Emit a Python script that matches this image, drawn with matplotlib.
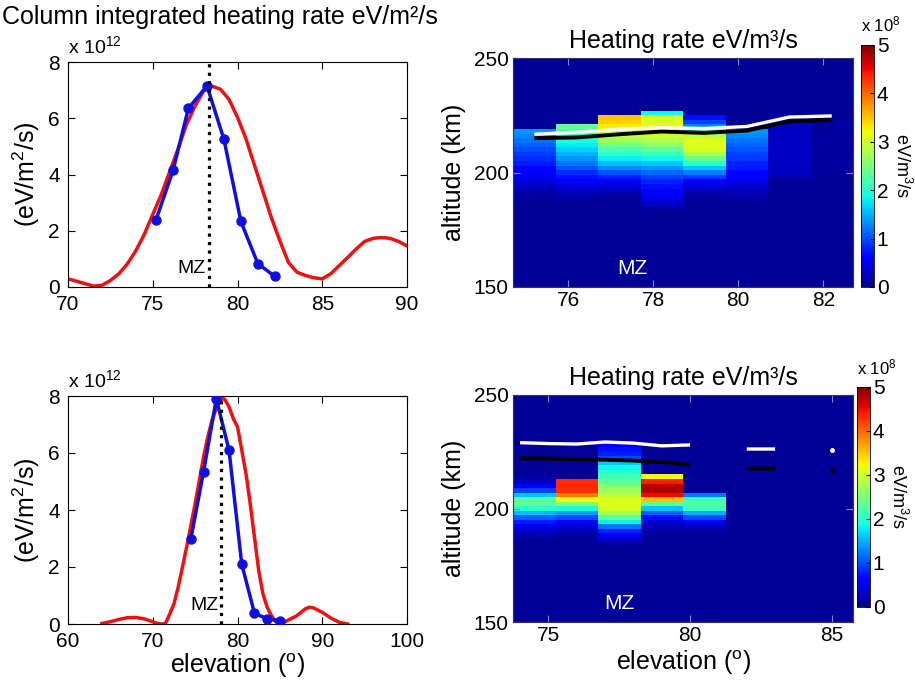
import numpy as np
import matplotlib
matplotlib.use("Agg")
import matplotlib.pyplot as plt

plt.rcParams['font.family'] = ['Liberation Sans', 'DejaVu Sans']
plt.rcParams['mathtext.fontset'] = 'custom'
plt.rcParams['mathtext.rm'] = 'Liberation Sans'
plt.rcParams['mathtext.it'] = 'Liberation Sans:italic'

# ---------------- column integrated heating rate (x 1e12 eV/m^2/s) ----------------
top_obs_elev = [75.2, 76.2, 77.1, 78.2, 79.2, 80.2, 81.2, 82.2]
top_obs_rate = [2.4, 4.15, 6.35, 7.15, 5.25, 2.33, 0.83, 0.38]
top_mod_elev = [70, 71, 71.5, 72, 72.5, 73, 73.5, 74, 74.5, 75, 75.5, 76, 76.5, 77, 77.5,
                78, 78.5, 79, 79.5, 80, 80.5, 81, 81.5, 82, 82.5, 83, 83.5, 84, 84.5, 85,
                85.5, 86, 86.5, 87, 87.5, 88, 88.5, 89, 89.5, 90]
top_mod_rate = [0.29, 0.12, 0.03, 0.06, 0.23, 0.47, 0.82, 1.29, 1.87, 2.58, 3.28, 4.1, 4.92,
                5.8, 6.44, 6.97, 7.14, 7.03, 6.67, 6.03, 5.27, 4.33, 3.4, 2.46, 1.64, 0.88,
                0.53, 0.41, 0.33, 0.29, 0.47, 0.76, 1.05, 1.35, 1.62, 1.73, 1.76, 1.73, 1.62, 1.46]
top_mz = 78.3

bot_obs_elev = [74.5, 76.0, 77.5, 79.0, 80.5, 82.0, 83.5, 85.0]
bot_obs_rate = [3.0, 5.35, 7.9, 6.1, 2.1, 0.38, 0.18, 0.12]
bot_mod_elev = [64, 65, 66, 67, 68, 69, 70, 70.5, 71, 71.5, 72, 72.5, 73, 73.5, 74, 74.5, 75,
                75.5, 76, 76.5, 77, 77.5, 78, 78.3, 78.5, 79, 79.5, 80, 80.5, 81, 81.5, 82,
                82.5, 83, 83.5, 84, 84.5, 85, 85.5, 86, 87, 88, 88.5, 89, 90, 91, 92, 93]
bot_mod_rate = [0.02, 0.08, 0.16, 0.22, 0.23, 0.18, 0.08, 0.02, 0.0, 0.02, 0.35, 0.7, 1.29,
                1.99, 2.7, 3.46, 4.22, 5.04, 5.87, 6.57, 7.16, 7.57, 7.86, 7.92, 7.88, 7.62,
                7.21, 6.92, 6.1, 5.28, 4.22, 3.05, 1.88, 1.06, 0.59, 0.29, 0.08, 0.0, 0.06,
                0.14, 0.29, 0.53, 0.59, 0.56, 0.41, 0.21, 0.06, 0.0]
bot_mz = 78.0

# ---------------- heating rate profiles (x 1e8 eV/m^3/s) ----------------
# altitude bins of 2 km centred on 186..228 km, background outside the band
alt_band = np.arange(186, 229, 2)
bg = 0.1

top_cols = [75.2, 76.2, 77.2, 78.2, 79.2, 80.2, 81.2, 82.2]
top_profiles = [
    [.1, .12, .15, .2, .3, .4, .5, .6, .65, .75, .85, .9, 1.0, 1.1, 1.2, 1.3, 1.35, .1, .1, .1, .1, .1],
    [.1, .15, .2, .3, .4, .55, .7, .85, 1.05, 1.2, 1.35, 1.5, 1.65, 1.8, 1.9, 2.05, 2.2, 2.35, .1, .1, .1, .1],
    [.1, .12, .15, .25, .4, .6, .8, 1.05, 1.3, 1.55, 1.8, 2.0, 2.2, 2.45, 2.7, 2.9, 3.1, 3.3, 3.45, 3.5, .1, .1],
    [.3, .4, .5, .6, .7, .8, .95, 1.15, 1.35, 1.6, 1.85, 2.1, 2.35, 2.6, 2.8, 2.95, 3.05, 3.1, 3.1, 3.05, 1.9, .1],
    [.1, .12, .15, .25, .4, .6, .9, 1.25, 1.6, 2.0, 2.4, 2.8, 3.05, 3.1, 3.1, 2.9, 2.0, 1.3, .95, .7, .1, .1],
    [.1, .15, .2, .25, .35, .45, .55, .65, .75, .8, .9, .95, 1.05, 1.1, 1.2, 1.3, 1.35, .1, .1, .1, .1, .1],
    [.1, .1, .1, .1, .1, .1, .2, .3, .3, .3, .3, .3, .3, .3, .3, .3, .3, .3, .3, .2, .1, .1],
    [.1, .1, .1, .1, .1, .1, .1, .15, .15, .15, .15, .15, .15, .15, .15, .15, .15, .15, .15, .1, .1, .1],
]
top_lines_elev = [75.2, 76.2, 77.2, 78.2, 79.2, 80.2, 81.2, 82.2]
top_white_alt = [216.7, 217.6, 218.9, 219.6, 219.2, 220.1, 224.2, 224.7]
top_black_alt = [215.0, 215.3, 216.7, 217.9, 217.3, 218.3, 222.3, 223.0]

bot_cols = [74.5, 76.0, 77.5, 79.0, 80.5, 82.0, 83.5, 85.0]
bot_profiles = [
    [.1, .2, .3, .5, .75, 1.1, 1.55, 2.0, 2.35, 2.25, 1.6, .95, .55, .3, .15, .1, .1, .1, .1, .1, .1, .1],
    [.1, .15, .25, .4, .65, 1.0, 1.4, 1.9, 2.5, 3.2, 3.9, 4.3, 4.35, 4.3, .1, .1, .1, .1, .1, .1, .1, .1],
    [.3, .5, .8, 1.2, 1.8, 2.3, 2.8, 3.05, 3.1, 3.05, 2.9, 2.7, 2.5, 2.3, 2.15, 2.0, 1.85, 1.6, 1.0, .8, .7, .5],
    [.1, .12, .15, .25, .4, .7, 1.1, 1.6, 2.3, 3.5, 4.5, 4.8, 4.75, 4.4, 3.2, .1, .1, .1, .1, .1, .1, .1],
    [.1, .1, .15, .3, .6, 1.0, 1.5, 2.1, 2.3, 2.1, 1.2, .1, .1, .1, .1, .1, .1, .1, .1, .1, .1, .1],
    [.1] * 22,
    [.1] * 22,
    [.1] * 22,
]
bot_lines_elev = [74, 75, 76, 77, 78, 79, 80, 81, 82, 83, 84, 85]
bot_white_alt = [229.0, 228.6, 228.4, 229.3, 228.8, 227.6, 228.0, np.nan, 226.2, 226.2, np.nan, 225.8]
bot_black_alt = [222.2, 222.0, 221.8, 221.5, 221.1, 220.5, 219.3, np.nan, 217.6, 217.6, np.nan, 217.0]

W, H = 915, 689
fig = plt.figure(figsize=(W / 100, H / 100), dpi=100)

def px_axes(l, t, r, b):
    return fig.add_axes([l / W, 1 - b / H, (r - l) / W, (b - t) / H])

TICK = 15
LAB = 18
TITLE = 18

def column_panel(ax, obs_x, obs_y, mod_x, mod_y, mz, xlim, xticks):
    ax.plot(mod_x, mod_y, color='#ee1111', lw=2.5, zorder=2)
    ax.plot(obs_x, obs_y, '-o', color='#1010dd', lw=2.5, ms=6.5, zorder=3)
    ax.axvline(mz, color='black', ls=':', lw=2.3, zorder=4)
    ax.text(mz - 0.2, 0.35, 'MZ', ha='right', va='bottom', fontsize=14)
    ax.set_xlim(*xlim)
    ax.set_ylim(0, 8)
    ax.set_xticks(xticks)
    ax.set_yticks([0, 2, 4, 6, 8])
    ax.tick_params(direction='in', top=True, right=True, labelsize=TICK, length=5)
    ax.tick_params(axis='x', pad=6)
    ax.tick_params(axis='y', pad=6)
    ax.set_ylabel(r'(eV/m$^2$/s)', fontsize=LAB, labelpad=4)
    ax.text(0.0, 1.02, r'x 10$^{12}$', transform=ax.transAxes, fontsize=14,
            ha='left', va='bottom')

def heat_panel(ax, cax, cols, width, profiles, lx, white, black, xlim, xticks):
    xe = np.append(np.array(cols) - width / 2, cols[-1] + width / 2)
    ye = np.concatenate([[150], alt_band - 1, [alt_band[-1] + 1, 250]])
    grid = np.array(profiles).T
    full = np.vstack([np.full(len(cols), bg), grid, np.full(len(cols), bg)])
    pcm = ax.pcolormesh(xe, ye, full, cmap='jet', vmin=0, vmax=5, shading='flat')
    ax.plot(lx, black, color='black', lw=2.8, solid_capstyle='butt')
    ax.plot(lx, white, color='white', lw=2.4, solid_capstyle='butt')
    ax.set_xlim(*xlim)
    ax.set_ylim(150, 250)
    ax.set_xticks(xticks)
    ax.set_yticks([150, 200, 250])
    ax.tick_params(direction='in', top=True, right=True, labelsize=TICK, length=5,
                   color='#8888cc', pad=3)
    for s in ax.spines.values():
        s.set_color('#333366')
    ax.set_ylabel('altitude (km)', fontsize=LAB, labelpad=6)
    ax.set_title('Heating rate eV/m³/s', fontsize=TITLE, pad=7)
    ax.text(77.5, 158, 'MZ', color='white', ha='center', va='center', fontsize=15)
    cb = fig.colorbar(pcm, cax=cax)
    cb.set_ticks([0, 1, 2, 3, 4, 5])
    cb.ax.tick_params(labelsize=TICK, direction='in', length=3, pad=2)
    cb.outline.set_linewidth(0.6)
    cax.text(3.15, 0.5, r'eV/m$^3$/s', transform=cax.transAxes, rotation=270,
             fontsize=13, ha='center', va='center')
    cax.text(0.0, 1.045, r'x 10$^8$', transform=cax.transAxes, fontsize=12,
             ha='left', va='bottom')
    return pcm

ax1 = px_axes(68, 62, 407, 287)
column_panel(ax1, top_obs_elev, top_obs_rate, top_mod_elev, top_mod_rate, top_mz,
             (70, 90), [70, 75, 80, 85, 90])
fig.text(2 / W, 1 - 17 / H, 'Column integrated heating rate eV/m²/s', fontsize=TITLE,
         ha='left', va='center')

ax3 = px_axes(68, 396, 407, 624)
column_panel(ax3, bot_obs_elev, bot_obs_rate, bot_mod_elev, bot_mod_rate, bot_mz,
             (60, 100), [60, 70, 80, 90, 100])
ax3.set_xlabel(r'elevation ($^{\rm o}$)', fontsize=LAB, labelpad=0)

ax2 = px_axes(513, 58, 853, 287)
cax2 = px_axes(861, 45, 874, 287)
heat_panel(ax2, cax2, top_cols, 1.0, top_profiles, top_lines_elev, top_white_alt,
           top_black_alt, (74.7, 82.7), [76, 78, 80, 82])

ax4 = px_axes(513, 395, 853, 622)
cax4 = px_axes(857, 387, 870, 607)
heat_panel(ax4, cax4, bot_cols, 1.5, bot_profiles, bot_lines_elev, bot_white_alt,
           bot_black_alt, (73.75, 85.75), [75, 80, 85])
ax4.plot(bot_lines_elev[-1:], bot_black_alt[-1:], 'o', color='black', ms=2.5)
ax4.plot(bot_lines_elev[-1:], bot_white_alt[-1:], 'o', color='white', ms=2.5)
ax4.set_xlabel(r'elevation ($^{\rm o}$)', fontsize=LAB, labelpad=2)

fig.savefig('out.png', dpi=100)
